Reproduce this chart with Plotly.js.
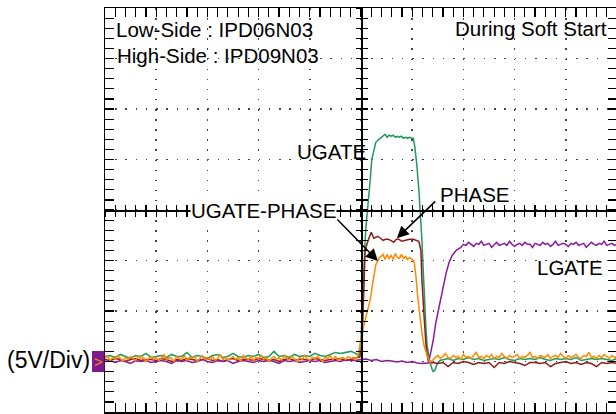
<!DOCTYPE html>
<html><head><meta charset="utf-8">
<script src="https://cdn.plot.ly/plotly-3.0.1.min.js"></script>
<style>html,body{margin:0;padding:0;overflow:hidden;background:#fff}</style>
</head><body>
<div id="chart" style="width:617px;height:414px"></div>
<script>
// Time axis in screen divisions (10 div), voltage in volts (5 V/div), ground = 0 V
const timeRange = [0, 10];
const voltRange = [-5, 35];

// ---------- UGATE-PHASE (orange) ----------
const orangePreStart = 0, orangePreStep = 0.05;
const orangePre = [
 0.3,0.5,0.1,0.4,0.2,0.6,0.3,0.0,0.4,0.2,
 0.5,0.3,0.1,0.6,0.2,0.4,0.0,0.3,0.5,0.2,
 0.4,0.1,0.3,0.7,0.2,0.4,0.3,0.0,0.5,0.3,
 0.2,0.6,0.1,0.4,0.3,0.5,0.0,0.3,0.6,0.2,
 0.4,0.2,0.5,0.1,0.3,0.7,0.2,0.4,0.1,0.3,
 0.5,0.2,0.4,0.0,0.6,0.3,0.2,0.5,0.1,0.4,
 0.3,0.6,0.2,0.4,0.0,0.3,0.5,0.2,0.4,0.1,
 0.6,0.3,0.2,0.5,0.3,0.0,0.4,0.2,0.6,0.3,
 0.1,0.4,0.3,0.5,0.2,0.0,0.4,0.3,0.6,0.2,
 0.5,0.1,0.3,0.4,0.2,0.5,0.3,0.4,0.2];
const orangeEdgeT = [4.94,4.98,5.02,5.08,5.14,5.18,5.23,5.29,5.35,5.39,
 5.43,5.47,5.51,5.55,5.59,5.63,5.67,5.71,5.75,5.79,5.83,5.87,5.91,5.95,
 5.98,6.04,6.07,6.11,6.15,6.19,6.23,6.29,6.35,6.41];
const orangeEdgeV = [0.6,1.6,2.8,4.1,5.3,6.1,7.8,9.6,10.2,10.4,
 10.6,10.1,10.6,10.2,10.5,10.1,10.7,10.3,10.2,10.6,10.2,10.4,10.1,10.3,
 10.2,9.8,8.6,6.3,4.3,2.8,1.6,0.6,-0.1,0.2];
const orangePostStart = 6.45, orangePostStep = 0.05;
const orangePost = [
 0.4,0.6,0.3,0.5,0.8,0.4,0.3,0.6,0.4,0.5,
 0.2,0.7,0.4,0.5,0.3,0.6,0.9,0.4,0.5,0.3,
 0.6,0.4,0.7,0.3,0.5,0.4,0.8,0.5,0.3,0.6,
 0.4,0.5,0.7,0.3,0.5,0.4,0.6,0.9,0.4,0.5,
 0.3,0.6,0.5,0.4,0.7,0.3,0.5,0.6,0.4,0.8,
 0.5,0.3,0.6,0.4,0.5,0.7,0.4,0.3,0.6,0.5,
 0.9,0.4,0.5,0.3,0.6,0.4,0.7,0.5,0.3,0.6,
 0.4,0.5];

// ---------- UGATE (green) ----------
const greenPreStart = 0, greenPreStep = 0.1;
const greenPre = [
 0.5,0.6,0.4,0.7,0.5,0.3,0.6,0.5,0.8,0.4,
 0.5,0.6,0.4,0.7,0.5,0.5,0.9,0.4,0.6,0.5,
 0.3,0.6,0.7,0.4,0.5,0.8,0.5,0.4,0.6,0.5,
 0.7,0.4,0.5,1.0,0.5,0.6,0.4,0.7,0.5,0.6,
 0.5,0.8,0.6,0.5,0.7,0.9,0.8,0.9,1.0,0.8];
const greenEdgeT = [4.96,5.00,5.02,5.04,5.06,5.08,5.10,5.12,5.14,5.18,5.21,5.25,5.29,5.35,5.39,
 5.43,5.47,5.51,5.55,5.59,5.63,5.67,5.71,5.75,5.79,5.83,5.87,5.91,5.95,5.99,
 6.02,6.05,6.09,6.13,6.15,6.17,6.19,6.21,6.23,6.25,6.27,6.29,6.31,6.35,6.39,6.41,6.45,6.48,6.54];
const greenEdgeV = [0.5,2.1,5.1,7.6,9.9,12.0,13.5,14.5,15.5,18.0,20.0,21.0,21.7,22.0,22.2,
 22.3,22.5,22.2,22.4,22.3,22.4,22.2,22.3,22.2,22.3,22.1,22.2,22.1,22.2,22.1,
 22.1,21.3,19.5,17.0,15.5,14.5,12.0,9.6,7.1,5.1,3.1,1.6,0.9,-0.1,-0.8,-1.0,-0.8,-0.3,0.1];
const greenPostStart = 6.6, greenPostStep = 0.1;
const greenPost = [
 0.2,0.3,0.1,0.3,0.2,0.4,0.2,0.3,0.1,0.2,
 0.3,0.2,0.4,0.2,0.1,0.3,0.2,0.3,0.2,0.4,
 0.2,0.1,0.3,0.2,0.3,0.2,0.4,0.1,0.2,0.3,
 0.2,0.3,0.2,0.1,0.3];

// ---------- PHASE (brown) ----------
const brownPreStart = 0, brownPreStep = 0.1;
const brownPre = [
 0.2,0.1,0.3,0.2,0.0,0.2,0.3,0.1,0.2,0.2,
 0.1,0.3,0.2,0.0,0.2,0.1,0.3,0.2,0.1,0.2,
 0.3,0.1,0.2,0.0,0.2,0.3,0.1,0.2,0.2,0.1,
 0.3,0.2,0.1,0.2,0.0,0.2,0.3,0.1,0.2,0.2,
 0.1,0.3,0.2,0.1,0.2,0.2,0.3,0.1,0.2,0.3];
const brownEdgeT = [4.98,5.02,5.04,5.06,5.08,5.14,5.20,5.25,5.33,5.38,5.43,5.48,5.53,5.58,5.64,5.69,5.74,5.80,5.88,5.95,6.02,6.08,6.13,6.17,6.19,6.23,6.27,6.31,6.35];
const brownEdgeV = [0.45,1.6,5.1,9.0,11.0,12.0,12.8,12.2,12.4,12.2,12.0,12.1,12.1,12.0,11.8,12.1,12.1,11.9,12.0,12.1,12.1,12.0,11.9,11.0,8.1,4.6,1.6,0.15,-0.15];
const brownPostStart = 6.4, brownPostStep = 0.1;
const brownPost = [
 -0.1,-0.2,-0.1,-0.5,-0.1,-0.2,0.0,-0.1,-0.3,-0.1,
 -0.2,-0.1,-0.6,-0.1,-0.2,0.0,-0.1,-0.2,-0.4,-0.1,
 -0.1,-0.2,-0.1,-0.5,-0.2,-0.1,0.0,-0.2,-0.1,-0.3,
 -0.1,-0.2,-0.5,-0.1,-0.2,-0.1,-0.2];

// ---------- LGATE (purple) ----------
const purplePreStart = 0, purplePreStep = 0.1;
const purplePre = [
 0.0,0.1,-0.1,0.1,0.0,-0.2,0.1,0.0,0.1,-0.1,
 0.0,0.1,0.0,-0.2,0.1,0.0,0.1,-0.1,0.0,0.2,
 0.0,-0.1,0.1,0.0,0.1,-0.2,0.0,0.1,0.0,-0.1,
 0.1,0.0,0.1,0.0,-0.2,0.1,0.0,0.1,-0.1,0.0,
 0.1,0.0,0.1,-0.1,0.0,0.1,0.0,0.2,0.1,0.1];
const purpleEdgeT = [5.0,5.1,5.2,5.3,5.4,5.5,5.6,5.7,5.8,5.9,6.0,6.1,6.2,6.25,
 6.31,6.35,6.41,6.46,6.50,6.56,6.60,6.66,6.72,6.78,6.86,6.95];
const purpleEdgeV = [0.2,0.25,0.1,0.2,0.0,0.1,0.05,-0.05,0.05,-0.1,0.0,-0.15,-0.2,-0.15,
 -0.15,0.6,2.1,3.8,4.8,6.3,7.4,8.7,9.8,10.5,11.0,11.3];
const purplePostStart = 7.0, purplePostStep = 0.05;
const purplePost = [
 11.6,11.5,11.8,11.6,11.4,11.7,11.6,11.9,11.5,11.6,
 11.7,11.3,11.6,11.8,11.5,11.6,11.7,11.5,11.9,11.6,
 11.4,11.6,11.7,11.5,11.8,11.6,11.6,11.3,11.7,11.6,
 11.5,11.8,11.6,11.7,11.4,11.6,11.9,11.5,11.6,11.7,
 11.6,11.4,11.7,11.6,11.8,11.5,11.6,11.7,11.3,11.6,
 11.8,11.6,11.5,11.7,11.6,11.9,11.5,11.6,11.7,11.5,
 11.6];

// ---------- labels ----------
const boardLines = ["Low-Side : IPD06N03", "High-Side : IPD09N03"];
const conditionLabel = "During Soft Start";
const traceLabels = ["UGATE", "PHASE", "UGATE-PHASE", "LGATE"];
const scaleLabel = "(5V/Div)";

// helpers: regular scope sample clock
function clock(start, step, vals){ return vals.map((_, i) => +(start + i*step).toFixed(4)); }
function join(pre, preStart, preStep, edgeT, edgeV, post, postStart, postStep){
  return {
    x: clock(preStart, preStep, pre).concat(edgeT, clock(postStart, postStep, post)),
    y: pre.concat(edgeV, post)
  };
}
const G = join(greenPre, greenPreStart, greenPreStep, greenEdgeT, greenEdgeV, greenPost, greenPostStart, greenPostStep);
const B = join(brownPre, brownPreStart, brownPreStep, brownEdgeT, brownEdgeV, brownPost, brownPostStart, brownPostStep);
const P = join(purplePre, purplePreStart, purplePreStep, purpleEdgeT, purpleEdgeV, purplePost, purplePostStart, purplePostStep);
const O = join(orangePre, orangePreStart, orangePreStep, orangeEdgeT, orangeEdgeV, orangePost, orangePostStart, orangePostStep);

const C = {green:'#1f9a5a', brown:'#8e1b1b', purple:'#8c1a9c', orange:'#ff8a00'};
function tr(d, color, name){
  return {x:d.x, y:d.y, type:'scatter', mode:'lines', name:name,
          line:{color:color, width:1.5}, hoverinfo:'skip'};
}
const data = [
  tr(G, C.green, traceLabels[0]),
  tr(B, C.brown, traceLabels[1]),
  tr(P, C.purple, traceLabels[3]),
  tr(O, C.orange, traceLabels[2]),
  {x:[], y:[], xaxis:'x2', yaxis:'y', hoverinfo:'skip', showlegend:false},
  {x:[], y:[], xaxis:'x3', yaxis:'y', hoverinfo:'skip', showlegend:false},
  {x:[], y:[], xaxis:'x', yaxis:'y2', hoverinfo:'skip', showlegend:false},
  {x:[], y:[], xaxis:'x', yaxis:'y3', hoverinfo:'skip', showlegend:false}
];

const FONT = 'Liberation Sans, Arial, sans-serif';
const border = {showline:true, linecolor:'#000', linewidth:1.5, mirror:'allticks',
  ticks:'inside', ticklen:9, tickwidth:1.2, tickcolor:'#000',
  showticklabels:false, zeroline:false, fixedrange:true};
function centerAxis(side, extra){
  return Object.assign({showline:true, linecolor:'#000', linewidth:1.5,
    ticks:side, ticklen:5, tickwidth:1.2, tickcolor:'#000', showgrid:false,
    showticklabels:false, zeroline:false, fixedrange:true, anchor:'free', position:0.5}, extra);
}
const layout = {
  width:617, height:414,
  margin:{l:105, r:0, t:8, b:2},
  paper_bgcolor:'#fff', plot_bgcolor:'#fff',
  showlegend:false,
  font:{family:FONT, size:20.5, color:'#000'},
  xaxis:Object.assign({}, border, {range:timeRange, dtick:1, tick0:0,
    showgrid:true, gridcolor:'#444', gridwidth:1.5, griddash:'1.5px,8.6px',
    minor:{dtick:0.2, tick0:0, ticks:'inside', ticklen:5, tickcolor:'#000', tickwidth:1.2, showgrid:false}}),
  yaxis:Object.assign({}, border, {range:voltRange, dtick:5, tick0:0,
    showgrid:true, gridcolor:'#444', gridwidth:1.5, griddash:'1.5px,8.74px',
    minor:{dtick:1, tick0:0, ticks:'inside', ticklen:5, tickcolor:'#000', tickwidth:1.2, showgrid:false}}),
  xaxis2:centerAxis('outside', {overlaying:'x', range:timeRange, dtick:1, tick0:0,
    minor:{dtick:0.2, tick0:0, ticks:'outside', ticklen:5, tickcolor:'#000', tickwidth:1.2}}),
  xaxis3:centerAxis('inside', {overlaying:'x', range:timeRange, dtick:1, tick0:0,
    minor:{dtick:0.2, tick0:0, ticks:'inside', ticklen:5, tickcolor:'#000', tickwidth:1.2}}),
  yaxis2:centerAxis('outside', {overlaying:'y', range:voltRange, dtick:5, tick0:0,
    minor:{dtick:1, tick0:0, ticks:'outside', ticklen:5, tickcolor:'#000', tickwidth:1.2}}),
  yaxis3:centerAxis('inside', {overlaying:'y', range:voltRange, dtick:5, tick0:0,
    minor:{dtick:1, tick0:0, ticks:'inside', ticklen:5, tickcolor:'#000', tickwidth:1.2}}),
  shapes:[
    {type:'rect', xref:'paper', yref:'paper', x0:-0.0254, x1:-0.001, y0:0.099, y1:0.151,
     fillcolor:'#7d1a8c', line:{width:0}, layer:'above'}
  ],
  annotations:[
    {text:boardLines[0], x:0.175, y:32.9, xanchor:'left', yanchor:'middle', showarrow:false},
    {text:boardLines[1], x:0.19, y:30.3, xanchor:'left', yanchor:'middle', showarrow:false},
    {text:conditionLabel, x:9.85, y:33.0, xanchor:'right', yanchor:'middle', showarrow:false},
    {text:traceLabels[0], x:5.13, y:20.84, xanchor:'right', yanchor:'middle', showarrow:false},
    {text:traceLabels[1], x:6.50, y:16.5, xanchor:'left', yanchor:'middle', showarrow:false},
    {text:traceLabels[2], x:1.66, y:15.0, xanchor:'left', yanchor:'middle', showarrow:false, bgcolor:'#fff', borderpad:0},
    {text:traceLabels[3], x:8.40, y:9.26, xanchor:'left', yanchor:'middle', showarrow:false},
    {text:scaleLabel, xref:'paper', x:-0.025, y:0.15, xanchor:'right', yanchor:'middle', showarrow:false,
     font:{size:23, family:FONT, color:'#000'}},
    {text:'>', xref:'paper', yref:'paper', x:-0.013, y:0.125, xanchor:'center', yanchor:'middle', showarrow:false,
     font:{size:15, color:'#ff8a00', family:FONT}},
    {text:'', x:5.33, y:9.95, ax:4.51, ay:14.2, axref:'x', ayref:'y', showarrow:true,
     arrowhead:2, arrowsize:1.6, arrowwidth:1.5, arrowcolor:'#000', standoff:0},
    {text:'', x:5.70, y:12.2, ax:6.48, ay:16.0, axref:'x', ayref:'y', showarrow:true,
     arrowhead:2, arrowsize:1.6, arrowwidth:1.5, arrowcolor:'#000', standoff:0}
  ]
};
Plotly.newPlot('chart', data, layout, {staticPlot:true, displayModeBar:false});
</script>
</body></html>
